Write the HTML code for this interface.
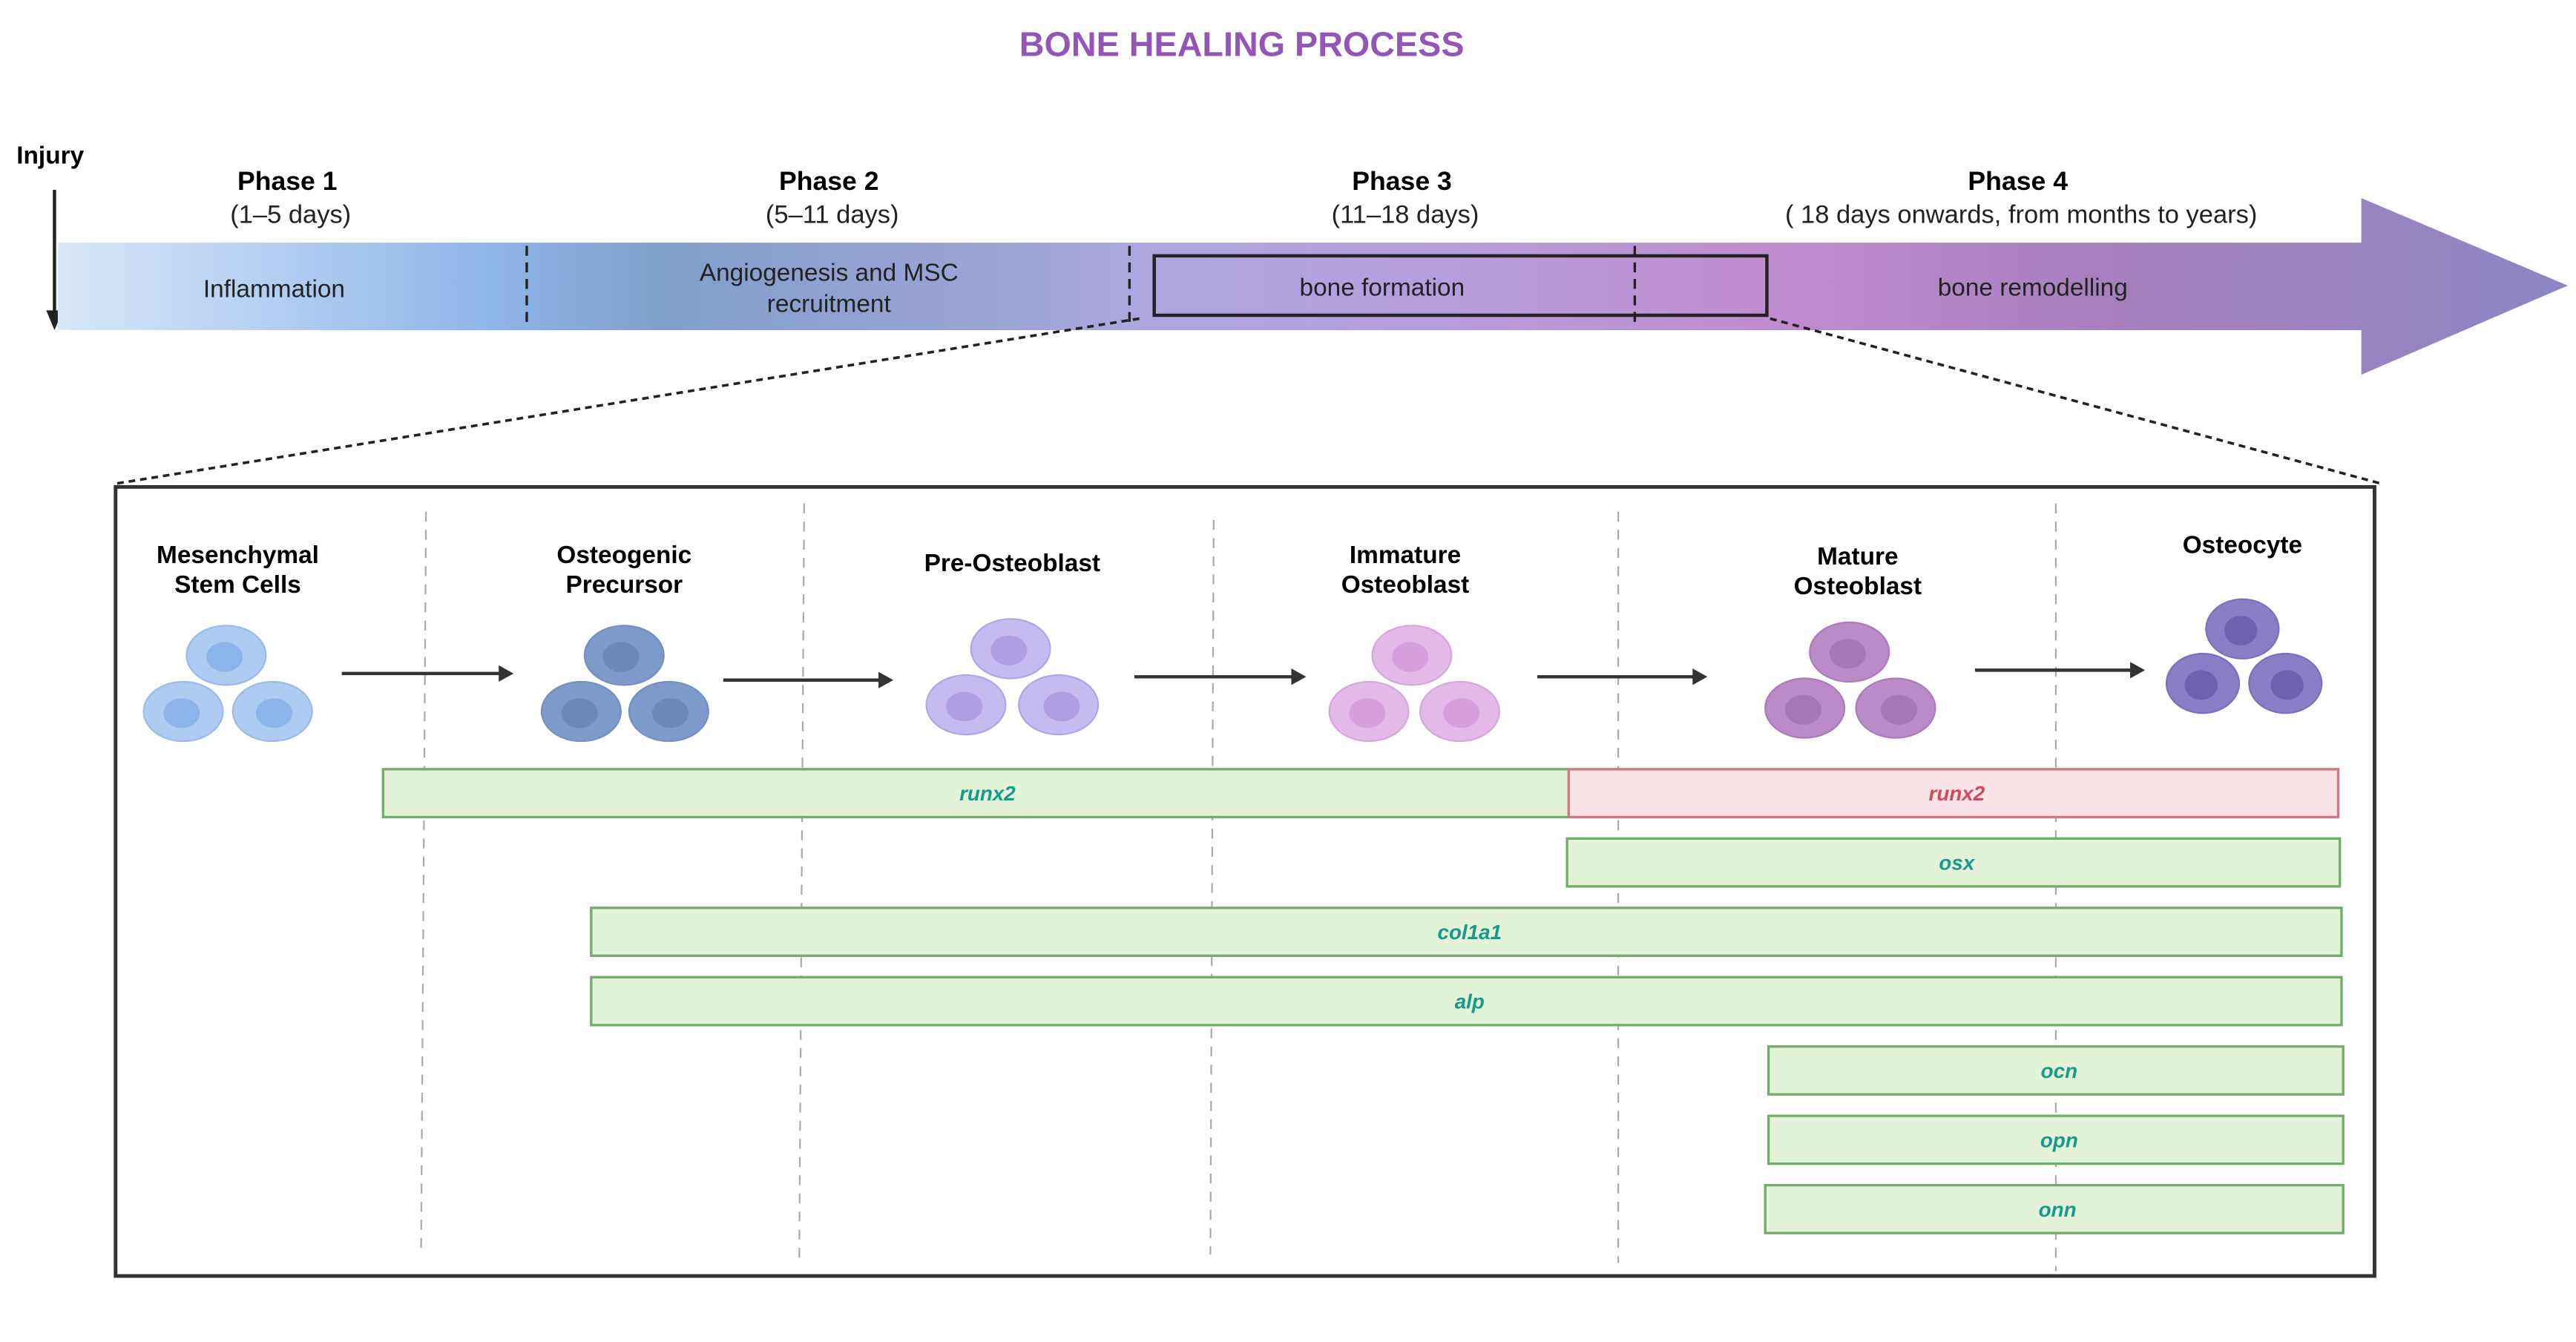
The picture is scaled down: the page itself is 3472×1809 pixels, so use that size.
<!DOCTYPE html>
<html><head><meta charset="utf-8"><style>
html,body{margin:0;padding:0;background:#fff;}
svg{display:block;}
text{font-family:"Liberation Sans",sans-serif;}
</style></head><body>
<svg width="3472" height="1809" viewBox="0 0 1560 813" preserveAspectRatio="none" xmlns="http://www.w3.org/2000/svg">
<defs>
<linearGradient id="band" x1="35" y1="0" x2="1555" y2="0" gradientUnits="userSpaceOnUse">
<stop offset="0" stop-color="#d8e7f8"/>
<stop offset="0.17" stop-color="#8fb6ea"/>
<stop offset="0.24" stop-color="#809fcc"/>
<stop offset="0.38" stop-color="#9ea4d6"/>
<stop offset="0.43" stop-color="#ada6e0"/>
<stop offset="0.55" stop-color="#b59edc"/>
<stop offset="0.68" stop-color="#c28cd0"/>
<stop offset="0.82" stop-color="#a77fbd"/>
<stop offset="1" stop-color="#8c86c4"/>
</linearGradient>
</defs>
<text x="752" y="34" text-anchor="middle" font-size="21" font-weight="bold" fill="#9356b8">BONE HEALING PROCESS</text>
<text x="10" y="99" font-size="15" font-weight="bold">Injury</text>
<line x1="33" y1="115" x2="33" y2="190" stroke="#222" stroke-width="2"/>
<polygon points="28,188 38,188 33,200" fill="#222"/>
<rect x="35" y="147" width="1396" height="53" fill="url(#band)"/>
<polygon points="1430,120 1555,173 1430,227" fill="url(#band)"/>
<g stroke="#222" stroke-width="1.5" stroke-dasharray="6,4">
<line x1="319" y1="149" x2="319" y2="197"/>
<line x1="684" y1="149" x2="684" y2="197"/>
<line x1="990" y1="149" x2="990" y2="197"/>
</g>
<rect x="699" y="155" width="371" height="36" fill="none" stroke="#222" stroke-width="2"/>
<g font-size="16" font-weight="bold" text-anchor="middle">
<text x="174" y="115">Phase 1</text><text x="502" y="115">Phase 2</text>
<text x="849" y="115">Phase 3</text><text x="1222" y="115">Phase 4</text>
</g>
<g font-size="15.5" text-anchor="middle" fill="#222">
<text x="176" y="135">(1–5 days)</text><text x="504" y="135">(5–11 days)</text>
<text x="851" y="135">(11–18 days)</text><text x="1224" y="135">( 18 days onwards, from months to years)</text>
</g>
<g font-size="15" text-anchor="middle" fill="#222">
<text x="166" y="180">Inflammation</text>
<text x="502" y="170">Angiogenesis and MSC</text><text x="502" y="189">recruitment</text>
<text x="837" y="179">bone formation</text>
<text x="1231" y="179">bone remodelling</text>
</g>
<g stroke="#222" stroke-width="1.6" stroke-dasharray="4,3">
<line x1="690" y1="193" x2="70" y2="293"/>
<line x1="1072" y1="193" x2="1442" y2="293"/>
</g>
<rect x="70" y="295" width="1368" height="478" fill="#fff" stroke="#333" stroke-width="2.2"/>
<g stroke="#aaa" stroke-width="1" stroke-dasharray="6,5">
<line x1="258" y1="310" x2="255" y2="760"/>
<line x1="487" y1="305" x2="484" y2="765"/>
<line x1="735" y1="315" x2="733" y2="760"/>
<line x1="980" y1="310" x2="980" y2="765"/>
<line x1="1245" y1="305" x2="1245" y2="770"/>
</g>
<g font-size="15" font-weight="bold" text-anchor="middle">
<text x="144" y="341">Mesenchymal</text><text x="144" y="359">Stem Cells</text>
<text x="378" y="341">Osteogenic</text><text x="378" y="359">Precursor</text>
<text x="613" y="346">Pre-Osteoblast</text>
<text x="851" y="341">Immature</text><text x="851" y="359">Osteoblast</text>
<text x="1125" y="342">Mature</text><text x="1125" y="360">Osteoblast</text>
<text x="1358" y="335">Osteocyte</text>
</g>
<g id="cells">
<g fill="#aecbf2" stroke="#98bbea">
<ellipse cx="137" cy="397" rx="24" ry="18"/><ellipse cx="111" cy="431" rx="24" ry="18"/><ellipse cx="165" cy="431" rx="24" ry="18"/></g>
<g fill="#8db4ea"><ellipse cx="136" cy="398" rx="11" ry="9"/><ellipse cx="110" cy="432" rx="11" ry="9"/><ellipse cx="166" cy="432" rx="11" ry="9"/></g>
<g fill="#7e9acb" stroke="#7390c3">
<ellipse cx="378" cy="397" rx="24" ry="18"/><ellipse cx="352" cy="431" rx="24" ry="18"/><ellipse cx="405" cy="431" rx="24" ry="18"/></g>
<g fill="#6a88ba"><ellipse cx="376" cy="398" rx="11" ry="9"/><ellipse cx="351" cy="432" rx="11" ry="9"/><ellipse cx="406" cy="432" rx="11" ry="9"/></g>
<g fill="#c5bbf1" stroke="#b0a5e6">
<ellipse cx="612" cy="393" rx="24" ry="18"/><ellipse cx="585" cy="427" rx="24" ry="18"/><ellipse cx="641" cy="427" rx="24" ry="18"/></g>
<g fill="#ad9fe2"><ellipse cx="611" cy="394" rx="11" ry="9"/><ellipse cx="584" cy="428" rx="11" ry="9"/><ellipse cx="643" cy="428" rx="11" ry="9"/></g>
<g fill="#e3b9e8" stroke="#d8a6de">
<ellipse cx="855" cy="397" rx="24" ry="18"/><ellipse cx="829" cy="431" rx="24" ry="18"/><ellipse cx="884" cy="431" rx="24" ry="18"/></g>
<g fill="#d49fdb"><ellipse cx="854" cy="398" rx="11" ry="9"/><ellipse cx="828" cy="432" rx="11" ry="9"/><ellipse cx="885" cy="432" rx="11" ry="9"/></g>
<g fill="#bb8bc7" stroke="#ab7bbb">
<ellipse cx="1120" cy="395" rx="24" ry="18"/><ellipse cx="1093" cy="429" rx="24" ry="18"/><ellipse cx="1148" cy="429" rx="24" ry="18"/></g>
<g fill="#a676b5"><ellipse cx="1119" cy="396" rx="11" ry="9"/><ellipse cx="1092" cy="430" rx="11" ry="9"/><ellipse cx="1150" cy="430" rx="11" ry="9"/></g>
<g fill="#8c7ec6" stroke="#7d6fbb">
<ellipse cx="1358" cy="381" rx="22" ry="18"/><ellipse cx="1334" cy="414" rx="22" ry="18"/><ellipse cx="1384" cy="414" rx="22" ry="18"/></g>
<g fill="#6f61ad"><ellipse cx="1357" cy="382" rx="10" ry="9"/><ellipse cx="1333" cy="415" rx="10" ry="9"/><ellipse cx="1385" cy="415" rx="10" ry="9"/></g>
</g>
<g stroke="#333" stroke-width="2">
<line x1="207" y1="408" x2="304" y2="408"/><line x1="438" y1="412" x2="534" y2="412"/>
<line x1="687" y1="410" x2="784" y2="410"/><line x1="931" y1="410" x2="1027" y2="410"/>
<line x1="1196" y1="406" x2="1292" y2="406"/>
</g>
<g fill="#333">
<polygon points="302,403 311,408 302,413"/><polygon points="532,407 541,412 532,417"/>
<polygon points="782,405 791,410 782,415"/><polygon points="1025,405 1034,410 1025,415"/>
<polygon points="1290,401 1299,406 1290,411"/>
</g>
<g fill="#e2f3d8" stroke="#72ad6c" stroke-width="1.5">
<rect x="232" y="466" width="718" height="29"/>
<rect x="949" y="508" width="468" height="29"/>
<rect x="358" y="550" width="1060" height="29"/>
<rect x="358" y="592" width="1060" height="29"/>
<rect x="1071" y="634" width="348" height="29"/>
<rect x="1071" y="676" width="348" height="29"/>
<rect x="1069" y="718" width="350" height="29"/>
</g>
<rect x="950" y="466" width="466" height="29" fill="#fbe4e8" stroke="#d77586" stroke-width="1.5"/>
<g font-size="12.5" font-weight="bold" font-style="italic" text-anchor="middle" fill="#179a8c">
<text x="598" y="485">runx2</text>
<text x="1185" y="527">osx</text>
<text x="890" y="569">col1a1</text>
<text x="890" y="611">alp</text>
<text x="1247" y="653">ocn</text>
<text x="1247" y="695">opn</text>
<text x="1246" y="737">onn</text>
</g>
<text x="1185" y="485" font-size="12.5" font-weight="bold" font-style="italic" text-anchor="middle" fill="#d04c5c">runx2</text>
</svg>
</body></html>
